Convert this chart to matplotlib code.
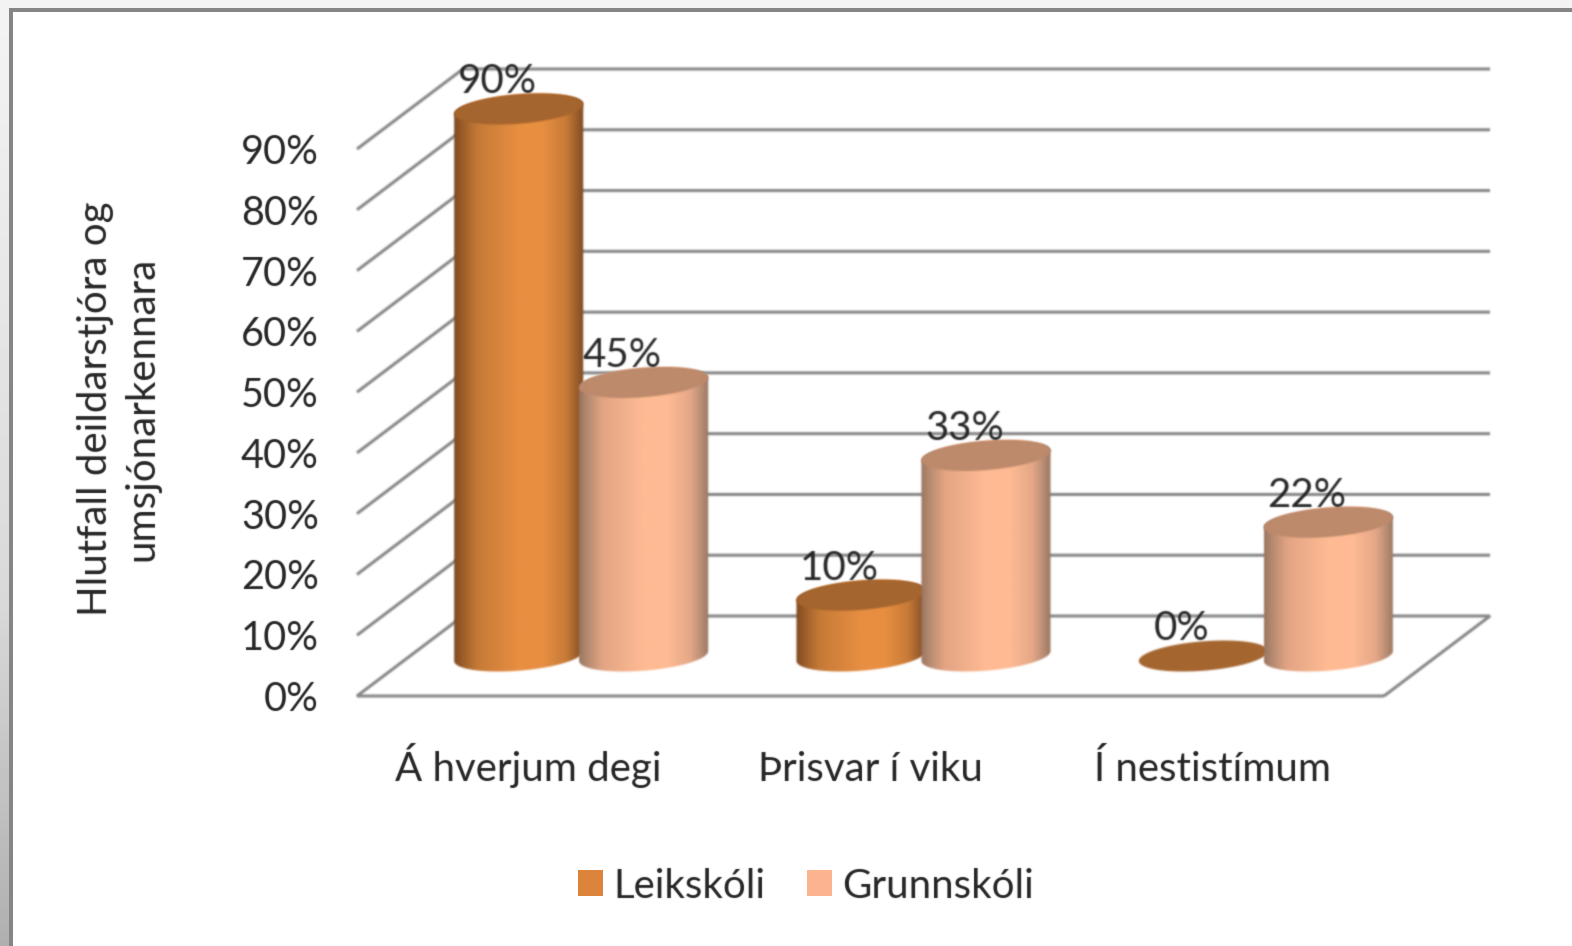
import numpy as np
import matplotlib
matplotlib.use("Agg")
import matplotlib.pyplot as plt
from matplotlib.patches import Polygon, Rectangle, Patch

# ---- data ----
categories = ["Á hverjum degi", "Þrisvar í viku", "Í nestistímum"]
series_names = ["Leikskóli", "Grunnskóli"]
leikskoli = [90, 10, 0]
grunnskoli = [45, 33, 22]
value_ticks = [0, 10, 20, 30, 40, 50, 60, 70, 80, 90]
y_title = "Hlutfall deildarstjóra og\numsjónarkennara"

W, H = 1572, 946
plt.rcParams["font.family"] = ["Lato", "DejaVu Sans"]
fig = plt.figure(figsize=(W / 100, H / 100), dpi=100, facecolor="#f3f3f3")


def blur_filter(sigma):
    radius = int(3 * sigma) + 1
    kernel = np.exp(-0.5 * (np.arange(-radius, radius + 1) / sigma) ** 2)
    kernel /= kernel.sum()

    def conv(a):
        a = np.apply_along_axis(lambda m: np.convolve(m, kernel, mode="same"), 0, a)
        return np.apply_along_axis(lambda m: np.convolve(m, kernel, mode="same"), 1, a)

    def f(img, dpi):
        pad = radius + 1
        p = np.pad(img, ((pad, pad), (pad, pad), (0, 0)))
        alpha = conv(p[..., 3])
        out = np.zeros_like(p)
        for c in range(3):
            out[..., c] = conv(p[..., c] * p[..., 3]) / np.maximum(alpha, 1e-4)
        out[..., 3] = alpha
        return np.clip(out, 0, 1), -pad, -pad

    return f


BLUR = blur_filter(0.9)
TEXT_BLUR = blur_filter(0.55)
TEXT = "#262626"

# ---- slide frame ----
outer_ax = fig.add_axes([0, 0, 9 / W, 1], zorder=-4)
outer_ax.imshow(np.interp(np.linspace(0, 946, 128), [0, 600, 946], [0.955, 0.85, 0.69])[:, None],
                cmap="gray", vmin=0, vmax=1, aspect="auto")
outer_ax.axis("off")
fig.add_artist(Rectangle((9 / W, 0), 1, 1 - 8 / H, transform=fig.transFigure,
                         fc="#858585", ec="none", zorder=-3))
fig.add_artist(Rectangle((13 / W, 0), 1, 1 - 12 / H, transform=fig.transFigure,
                         fc="white", ec="none", zorder=-2))

# ---- front plane of the chart as an ordinary axes ----
L, R, B, T = 357, 1384, 696, 149
ax = fig.add_axes([L / W, 1 - B / H, (R - L) / W, (B - T) / H])
ax.patch.set_visible(False)
ax.set_xlim(0, 3)
ax.set_ylim(0, 90)
ax.set_autoscale_on(False)
for s in ax.spines.values():
    s.set_visible(False)

# depth vector of the oblique projection, in data units
DX, DY = 106 / ((R - L) / 3), 80 / ((B - T) / 90)
GRID = "#868686"

for v in value_ticks:
    line_x = [0, DX, 3 + DX] if v > 0 else [3, 0, DX, 3 + DX, 3]
    line_y = [v, v + DY, v + DY] if v > 0 else [0, 0, DY, DY, 0]
    ax.plot(line_x, line_y, color=GRID, lw=2.2, clip_on=False, zorder=1,
            solid_joinstyle="miter", solid_capstyle="butt", agg_filter=BLUR)

# ---- cylinders ----
A = 0.1787            # radius along x, category units
RZ = 0.194            # radius along depth, fraction of floor depth
OFFSET = 0.1825       # half spacing between the two cylinders
STOP_POS = [0.0, 0.06, 0.18, 0.5, 0.68, 0.86, 0.96, 1.0]
STYLES = [
    dict(stops=["#7f4a1f", "#9a5c29", "#c67a37", "#e88f42", "#e88f42", "#c97c38", "#96592a", "#7f4a1f"],
         top="#a5652e", legend="#dc843c"),
    dict(stops=["#9a7560", "#b48a70", "#e3a584", "#ffbb94", "#ffbb94", "#e5a888", "#b08870", "#9a7560"],
         top="#bd8a6c", legend="#fbb48f"),
]


def ring(xc, v, t):
    x = xc + DX * 0.5 + A * np.cos(t) + RZ * DX * np.sin(t)
    y = v + DY * 0.5 + RZ * DY * np.sin(t)
    return np.column_stack([x, y])


t0 = np.arctan2(RZ * DX, A)
full = np.linspace(0, 2 * np.pi, 181)
front = np.linspace(t0 - np.pi, t0, 91)        # lower arc, left to right
back = np.linspace(t0, t0 + np.pi, 91)         # upper arc, right to left


def draw_cylinder(xc, v, style, z):
    if v > 0:
        body = Polygon(np.vstack([ring(xc, 0, front), ring(xc, v, back)]),
                       transform=ax.transData, fc="none", ec="none", clip_on=False)
        ax.add_patch(body)
        rgb = np.array([matplotlib.colors.to_rgb(c) for c in style["stops"]])
        s = np.linspace(0, 1, 256)
        grad = np.stack([np.interp(s, STOP_POS, rgb[:, c]) for c in range(3)], axis=-1)[None, :, :]
        half = np.hypot(A, RZ * DX)
        cx = xc + DX * 0.5
        im = ax.imshow(grad, extent=(cx - half, cx + half, -2 - DY, v + 2 * DY), aspect="auto",
                       interpolation="bilinear", zorder=z, agg_filter=BLUR)
        im.set_clip_box(fig.bbox)
        im.set_clip_path(body)
    ax.add_patch(Polygon(ring(xc, v, full), fc=style["top"], ec="none", zorder=z + 0.1,
                         clip_on=False, agg_filter=BLUR))
    ax.annotate(f"{v}%", xy=(xc + DX * 0.5, v + DY * 0.5), xytext=(-15.5, 19.5),
                textcoords="offset points", ha="center", va="center", fontsize=29,
                color=TEXT, zorder=30, annotation_clip=False, agg_filter=TEXT_BLUR)


z = 2
for i in range(len(categories)):
    for values, sign, style in ((leikskoli, -1, STYLES[0]), (grunnskoli, 1, STYLES[1])):
        draw_cylinder(i + 0.5 + sign * OFFSET, values[i], style, z)
        z += 1

# ---- axes text ----
ax.set_yticks(value_ticks)
ax.set_yticklabels([f"{v}%" for v in value_ticks], fontsize=28.5, color=TEXT, agg_filter=TEXT_BLUR)
ax.set_xticks([i + 0.5 for i in range(len(categories))])
ax.set_xticklabels(categories, fontsize=29, color=TEXT, va="baseline", agg_filter=TEXT_BLUR)
ax.tick_params(axis="both", length=0)
ax.tick_params(axis="y", pad=27.5)
ax.tick_params(axis="x", pad=61)
ax.set_ylabel(y_title, fontsize=29, color=TEXT, linespacing=1.3, va="center", agg_filter=TEXT_BLUR)
ax.yaxis.set_label_coords((118.5 - L) / (R - L), (B - 409) / (B - T))

handles = [Patch(fc=STYLES[0]["legend"], ec="none", label=series_names[0]),
           Patch(fc=STYLES[1]["legend"], ec="none", label=series_names[1])]
leg = fig.legend(handles=handles, loc="center", bbox_to_anchor=(806 / W, 1 - 886 / H), ncol=2,
                 frameon=False, fontsize=29, handlelength=0.62, handleheight=0.62,
                 handletextpad=0.27, columnspacing=1.02, labelcolor=TEXT)
for t in leg.get_texts():
    t.set_agg_filter(TEXT_BLUR)

fig.savefig("out.png", dpi=100, facecolor=fig.get_facecolor())
